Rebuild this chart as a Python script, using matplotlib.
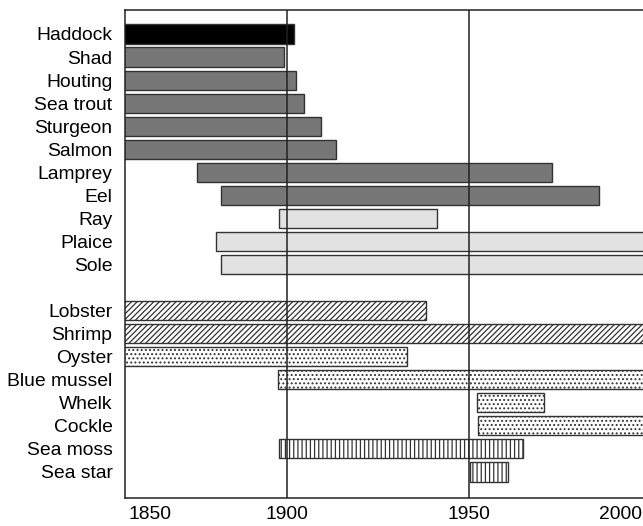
import matplotlib.pyplot as plt
import matplotlib.transforms as mtransforms

plt.rcParams['font.family'] = ['Liberation Sans', 'DejaVu Sans']
plt.rcParams['hatch.linewidth'] = 0.9

# species, first and last year of the bars
fish = ["Haddock", "Shad", "Houting", "Sea trout", "Sturgeon", "Salmon",
        "Lamprey", "Eel", "Ray", "Plaice", "Sole"]
fish_start = [1850, 1850, 1855, 1850, 1850, 1850, 1875.1, 1881.8, 1897.8, 1880.5, 1881.8]
fish_end = [1901.9, 1899.1, 1902.3, 1904.5, 1909.2, 1913.3, 1972.8, 1985.6, 1941.1, 2010, 2010]
fish_color = ["black"] + ["#777777"] * 7 + ["#e2e2e2"] * 3

inverts = ["Lobster", "Shrimp", "Oyster", "Blue mussel", "Whelk", "Cockle",
           "Sea moss", "Sea star"]
inv_start = [1850, 1850, 1850, 1897.4, 1952.0, 1952.3, 1897.7, 1950.2]
inv_end = [1938.0, 2010, 1932.8, 2010, 1970.5, 2010, 1964.7, 1960.5]
inv_hatch = ["//////", "//////", "....", "....", "....", "....", "||||", "||||"]

xtick_labels = ["1850", "1900", "1950", "2000"]

fig = plt.figure(figsize=(6.43, 5.26), dpi=100)
ax = fig.add_axes([125 / 643, 1 - 498 / 526, 1 - 125 / 643, 488 / 526])

fish_y = list(range(len(fish)))
inv_y = [len(fish) + 1 + i for i in range(len(inverts))]

widths = [e - s for s, e in zip(fish_start, fish_end)]
ax.barh(fish_y, widths, left=fish_start, height=0.83, color=fish_color,
        edgecolor="#333333", linewidth=1.0, zorder=2)

widths = [e - s for s, e in zip(inv_start, inv_end)]
bars = ax.barh(inv_y, widths, left=inv_start, height=0.83, color="white",
               edgecolor="#333333", linewidth=1.0, zorder=2)
for b, h in zip(bars, inv_hatch):
    b.set_hatch(h)

ax.axvline(1900, color="#222222", lw=1.1, zorder=3)
ax.axvline(1950, color="#222222", lw=1.1, zorder=3)

ax.set_xlim(1855.4, 1997.7)
ax.set_ylim(20.13, -1.04)

ax.set_yticks(fish_y + inv_y)
ax.set_yticklabels(fish + inverts, fontsize=13.9)
ax.tick_params(axis="y", length=0, pad=9)

# only the middle year ticks fall inside the cropped range
ax.set_xticks([1900, 1950])
ax.set_xticklabels(xtick_labels[1:3], fontsize=13.9)
ax.tick_params(axis="x", length=0, pad=5.5)
trans = mtransforms.blended_transform_factory(ax.transAxes, ax.transAxes)
ax.text(0.048, -0.0165, xtick_labels[0], transform=trans, ha="center", va="top", fontsize=13.9)
ax.text(0.957, -0.0165, xtick_labels[3], transform=trans, ha="center", va="top", fontsize=13.9)

ax.spines["right"].set_visible(False)
for s in ["left", "top", "bottom"]:
    ax.spines[s].set_linewidth(1.1)
    ax.spines[s].set_color("#222222")

fig.savefig("out.png", dpi=100)
